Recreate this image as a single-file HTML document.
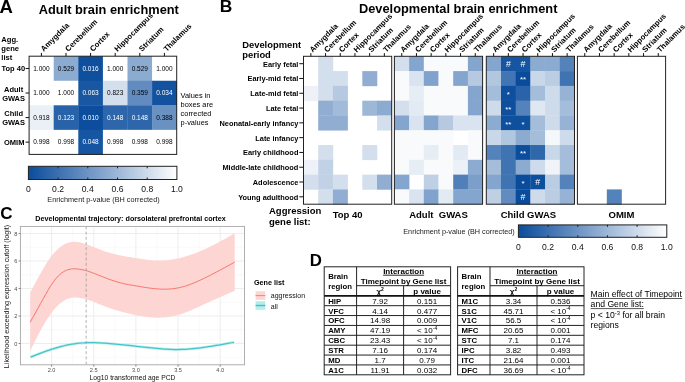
<!DOCTYPE html>
<html><head><meta charset="utf-8"><style>
html,body{margin:0;padding:0;background:#fff;width:685px;height:382px;overflow:hidden}
svg{display:block;font-family:"Liberation Sans", sans-serif;will-change:transform}
</style></head><body>
<svg width="685" height="382" viewBox="0 0 685 382">
<defs>
<linearGradient id="gA" x1="0" x2="1" y1="0" y2="0"><stop offset="0" stop-color="#0a4c9c"/><stop offset="1" stop-color="#ffffff"/></linearGradient>
<linearGradient id="gB" x1="0" x2="1" y1="0" y2="0"><stop offset="0" stop-color="#0a4c9c"/><stop offset="1" stop-color="#ffffff"/></linearGradient>
</defs>
<text x="-0.50" y="12.60" font-size="18.5" font-weight="bold" text-anchor="start" fill="#000" >A</text>
<text x="38.80" y="13.80" font-size="12.8" font-weight="bold" text-anchor="start" fill="#000" >Adult brain enrichment</text>
<rect x="29.10" y="56.20" width="24.90" height="24.85" fill="#ffffff" />
<text x="41.40" y="70.78" font-size="6.5" text-anchor="middle" fill="#000" >1.000</text>
<rect x="53.70" y="56.20" width="24.90" height="24.85" fill="#8cabd0" />
<text x="66.00" y="70.78" font-size="6.5" text-anchor="middle" fill="#000" >0.529</text>
<rect x="78.30" y="56.20" width="24.90" height="24.85" fill="#0e4f9e" />
<text x="90.60" y="70.78" font-size="6.5" text-anchor="middle" fill="#fff" >0.016</text>
<rect x="102.90" y="56.20" width="24.90" height="24.85" fill="#ffffff" />
<text x="115.20" y="70.78" font-size="6.5" text-anchor="middle" fill="#000" >1.000</text>
<rect x="127.50" y="56.20" width="24.90" height="24.85" fill="#8cabd0" />
<text x="139.80" y="70.78" font-size="6.5" text-anchor="middle" fill="#000" >0.529</text>
<rect x="152.10" y="56.20" width="24.90" height="24.85" fill="#ffffff" />
<text x="164.40" y="70.78" font-size="6.5" text-anchor="middle" fill="#000" >1.000</text>
<rect x="29.10" y="80.75" width="24.90" height="24.85" fill="#ffffff" />
<text x="41.40" y="95.33" font-size="6.5" text-anchor="middle" fill="#000" >1.000</text>
<rect x="53.70" y="80.75" width="24.90" height="24.85" fill="#ffffff" />
<text x="66.00" y="95.33" font-size="6.5" text-anchor="middle" fill="#000" >1.000</text>
<rect x="78.30" y="80.75" width="24.90" height="24.85" fill="#1957a2" />
<text x="90.60" y="95.33" font-size="6.5" text-anchor="middle" fill="#fff" >0.063</text>
<rect x="102.90" y="80.75" width="24.90" height="24.85" fill="#d4dfed" />
<text x="115.20" y="95.33" font-size="6.5" text-anchor="middle" fill="#000" >0.823</text>
<rect x="127.50" y="80.75" width="24.90" height="24.85" fill="#628cc0" />
<text x="139.80" y="95.33" font-size="6.5" text-anchor="middle" fill="#000" >0.359</text>
<rect x="152.10" y="80.75" width="24.90" height="24.85" fill="#12529f" />
<text x="164.40" y="95.33" font-size="6.5" text-anchor="middle" fill="#fff" >0.034</text>
<rect x="29.10" y="105.30" width="24.90" height="24.85" fill="#ebf0f7" />
<text x="41.40" y="119.88" font-size="6.5" text-anchor="middle" fill="#000" >0.918</text>
<rect x="53.70" y="105.30" width="24.90" height="24.85" fill="#2862a8" />
<text x="66.00" y="119.88" font-size="6.5" text-anchor="middle" fill="#fff" >0.123</text>
<rect x="78.30" y="105.30" width="24.90" height="24.85" fill="#0c4e9d" />
<text x="90.60" y="119.88" font-size="6.5" text-anchor="middle" fill="#fff" >0.010</text>
<rect x="102.90" y="105.30" width="24.90" height="24.85" fill="#2e66ab" />
<text x="115.20" y="119.88" font-size="6.5" text-anchor="middle" fill="#fff" >0.148</text>
<rect x="127.50" y="105.30" width="24.90" height="24.85" fill="#2e66ab" />
<text x="139.80" y="119.88" font-size="6.5" text-anchor="middle" fill="#fff" >0.148</text>
<rect x="152.10" y="105.30" width="24.90" height="24.85" fill="#6991c2" />
<text x="164.40" y="119.88" font-size="6.5" text-anchor="middle" fill="#000" >0.388</text>
<rect x="29.10" y="129.85" width="24.90" height="24.85" fill="#ffffff" />
<text x="41.40" y="144.43" font-size="6.5" text-anchor="middle" fill="#000" >0.998</text>
<rect x="53.70" y="129.85" width="24.90" height="24.85" fill="#ffffff" />
<text x="66.00" y="144.43" font-size="6.5" text-anchor="middle" fill="#000" >0.998</text>
<rect x="78.30" y="129.85" width="24.90" height="24.85" fill="#1655a1" />
<text x="90.60" y="144.43" font-size="6.5" text-anchor="middle" fill="#fff" >0.048</text>
<rect x="102.90" y="129.85" width="24.90" height="24.85" fill="#ffffff" />
<text x="115.20" y="144.43" font-size="6.5" text-anchor="middle" fill="#000" >0.998</text>
<rect x="127.50" y="129.85" width="24.90" height="24.85" fill="#ffffff" />
<text x="139.80" y="144.43" font-size="6.5" text-anchor="middle" fill="#000" >0.998</text>
<rect x="152.10" y="129.85" width="24.90" height="24.85" fill="#ffffff" />
<text x="164.40" y="144.43" font-size="6.5" text-anchor="middle" fill="#000" >0.998</text>
<rect x="29.10" y="56.20" width="147.60" height="98.20" fill="none" stroke="#222" stroke-width="1"/>
<line x1="41.40" y1="52.90" x2="41.40" y2="56.20" stroke="#111" stroke-width="1.0" />
<text transform="translate(43.70,52.00) rotate(-45)" font-size="7.7" font-weight="bold" fill="#000">Amygdala</text>
<line x1="66.00" y1="52.90" x2="66.00" y2="56.20" stroke="#111" stroke-width="1.0" />
<text transform="translate(68.30,52.00) rotate(-45)" font-size="7.7" font-weight="bold" fill="#000">Cerebellum</text>
<line x1="90.60" y1="52.90" x2="90.60" y2="56.20" stroke="#111" stroke-width="1.0" />
<text transform="translate(92.90,52.00) rotate(-45)" font-size="7.7" font-weight="bold" fill="#000">Cortex</text>
<line x1="115.20" y1="52.90" x2="115.20" y2="56.20" stroke="#111" stroke-width="1.0" />
<text transform="translate(117.50,52.00) rotate(-45)" font-size="7.7" font-weight="bold" fill="#000">Hippocampus</text>
<line x1="139.80" y1="52.90" x2="139.80" y2="56.20" stroke="#111" stroke-width="1.0" />
<text transform="translate(142.10,52.00) rotate(-45)" font-size="7.7" font-weight="bold" fill="#000">Striatum</text>
<line x1="164.40" y1="52.90" x2="164.40" y2="56.20" stroke="#111" stroke-width="1.0" />
<text transform="translate(166.70,52.00) rotate(-45)" font-size="7.7" font-weight="bold" fill="#000">Thalamus</text>
<line x1="25.60" y1="68.48" x2="29.10" y2="68.48" stroke="#111" stroke-width="1.0" />
<line x1="25.60" y1="93.03" x2="29.10" y2="93.03" stroke="#111" stroke-width="1.0" />
<line x1="25.60" y1="117.58" x2="29.10" y2="117.58" stroke="#111" stroke-width="1.0" />
<line x1="25.60" y1="142.12" x2="29.10" y2="142.12" stroke="#111" stroke-width="1.0" />
<text x="1.30" y="41.90" font-size="7.6" font-weight="bold" text-anchor="start" fill="#000" >Agg.</text>
<text x="1.30" y="51.40" font-size="7.6" font-weight="bold" text-anchor="start" fill="#000" >gene</text>
<text x="1.30" y="60.20" font-size="7.6" font-weight="bold" text-anchor="start" fill="#000" >list</text>
<text x="13.30" y="71.20" font-size="7.5" font-weight="bold" text-anchor="middle" fill="#000" >Top 40</text>
<text x="13.60" y="92.20" font-size="7.5" font-weight="bold" text-anchor="middle" fill="#000" >Adult</text>
<text x="13.60" y="100.60" font-size="7.5" font-weight="bold" text-anchor="middle" fill="#000" >GWAS</text>
<text x="13.60" y="116.30" font-size="7.5" font-weight="bold" text-anchor="middle" fill="#000" >Child</text>
<text x="13.60" y="124.70" font-size="7.5" font-weight="bold" text-anchor="middle" fill="#000" >GWAS</text>
<text x="14.20" y="145.00" font-size="7.5" font-weight="bold" text-anchor="middle" fill="#000" >OMIM</text>
<text x="180.60" y="98.30" font-size="7.4" text-anchor="start" fill="#000" >Values in</text>
<text x="180.60" y="107.10" font-size="7.4" text-anchor="start" fill="#000" >boxes are</text>
<text x="180.60" y="115.90" font-size="7.4" text-anchor="start" fill="#000" >corrected</text>
<text x="180.60" y="124.70" font-size="7.4" text-anchor="start" fill="#000" >p-values</text>
<rect x="28.40" y="166.30" width="148.50" height="13.20" fill="url(#gA)" stroke="#222" stroke-width="1"/>
<line x1="58.10" y1="166.30" x2="58.10" y2="168.30" stroke="#222" stroke-width="1" />
<line x1="58.10" y1="177.50" x2="58.10" y2="179.50" stroke="#222" stroke-width="1" />
<line x1="87.80" y1="166.30" x2="87.80" y2="168.30" stroke="#222" stroke-width="1" />
<line x1="87.80" y1="177.50" x2="87.80" y2="179.50" stroke="#222" stroke-width="1" />
<line x1="117.50" y1="166.30" x2="117.50" y2="168.30" stroke="#222" stroke-width="1" />
<line x1="117.50" y1="177.50" x2="117.50" y2="179.50" stroke="#222" stroke-width="1" />
<line x1="147.20" y1="166.30" x2="147.20" y2="168.30" stroke="#222" stroke-width="1" />
<line x1="147.20" y1="177.50" x2="147.20" y2="179.50" stroke="#222" stroke-width="1" />
<text x="28.40" y="191.50" font-size="8.6" text-anchor="middle" fill="#111" >0</text>
<text x="58.10" y="191.50" font-size="8.6" text-anchor="middle" fill="#111" >0.2</text>
<text x="87.80" y="191.50" font-size="8.6" text-anchor="middle" fill="#111" >0.4</text>
<text x="117.50" y="191.50" font-size="8.6" text-anchor="middle" fill="#111" >0.6</text>
<text x="147.20" y="191.50" font-size="8.6" text-anchor="middle" fill="#111" >0.8</text>
<text x="176.90" y="191.50" font-size="8.6" text-anchor="middle" fill="#111" >1.0</text>
<text x="103.50" y="201.80" font-size="7.3" text-anchor="middle" fill="#222" >Enrichment p-value (BH corrected)</text>
<text x="219.80" y="12.40" font-size="17.4" font-weight="bold" text-anchor="start" fill="#000" >B</text>
<text x="359.00" y="12.70" font-size="12.8" font-weight="bold" text-anchor="start" fill="#000" >Developmental brain enrichment</text>
<text x="242.20" y="47.70" font-size="9.4" font-weight="bold" text-anchor="start" fill="#000" >Development</text>
<text x="242.20" y="58.30" font-size="9.4" font-weight="bold" text-anchor="start" fill="#000" >period</text>
<text x="298.40" y="66.69" font-size="7.4" font-weight="bold" text-anchor="end" fill="#000" >Early fetal</text>
<line x1="299.30" y1="63.70" x2="303.50" y2="63.70" stroke="#111" stroke-width="1.0" />
<text x="298.40" y="81.48" font-size="7.4" font-weight="bold" text-anchor="end" fill="#000" >Early-mid fetal</text>
<line x1="299.30" y1="78.48" x2="303.50" y2="78.48" stroke="#111" stroke-width="1.0" />
<text x="298.40" y="96.28" font-size="7.4" font-weight="bold" text-anchor="end" fill="#000" >Late-mid fetal</text>
<line x1="299.30" y1="93.28" x2="303.50" y2="93.28" stroke="#111" stroke-width="1.0" />
<text x="298.40" y="111.06" font-size="7.4" font-weight="bold" text-anchor="end" fill="#000" >Late fetal</text>
<line x1="299.30" y1="108.06" x2="303.50" y2="108.06" stroke="#111" stroke-width="1.0" />
<text x="298.40" y="125.86" font-size="7.4" font-weight="bold" text-anchor="end" fill="#000" >Neonatal-early infancy</text>
<line x1="299.30" y1="122.86" x2="303.50" y2="122.86" stroke="#111" stroke-width="1.0" />
<text x="298.40" y="140.64" font-size="7.4" font-weight="bold" text-anchor="end" fill="#000" >Late infancy</text>
<line x1="299.30" y1="137.64" x2="303.50" y2="137.64" stroke="#111" stroke-width="1.0" />
<text x="298.40" y="155.44" font-size="7.4" font-weight="bold" text-anchor="end" fill="#000" >Early childhood</text>
<line x1="299.30" y1="152.44" x2="303.50" y2="152.44" stroke="#111" stroke-width="1.0" />
<text x="298.40" y="170.23" font-size="7.4" font-weight="bold" text-anchor="end" fill="#000" >Middle-late childhood</text>
<line x1="299.30" y1="167.23" x2="303.50" y2="167.23" stroke="#111" stroke-width="1.0" />
<text x="298.40" y="185.01" font-size="7.4" font-weight="bold" text-anchor="end" fill="#000" >Adolescence</text>
<line x1="299.30" y1="182.01" x2="303.50" y2="182.01" stroke="#111" stroke-width="1.0" />
<text x="298.40" y="199.81" font-size="7.4" font-weight="bold" text-anchor="end" fill="#000" >Young adulthood</text>
<line x1="299.30" y1="196.81" x2="303.50" y2="196.81" stroke="#111" stroke-width="1.0" />
<rect x="318.20" y="56.30" width="15.00" height="15.09" fill="#d3dfed" />
<rect x="318.20" y="71.09" width="15.00" height="15.09" fill="#d3dfed" />
<rect x="332.90" y="71.09" width="15.00" height="15.09" fill="#d3dfed" />
<rect x="362.30" y="71.09" width="15.00" height="15.09" fill="#91aed2" />
<rect x="303.50" y="85.88" width="15.00" height="15.09" fill="#eef2f8" />
<rect x="318.20" y="85.88" width="15.00" height="15.09" fill="#d3dfed" />
<rect x="332.90" y="85.88" width="15.00" height="15.09" fill="#b6c9e1" />
<rect x="318.20" y="100.67" width="15.00" height="15.09" fill="#91aed2" />
<rect x="332.90" y="100.67" width="15.00" height="15.09" fill="#a2bbd9" />
<rect x="362.30" y="100.67" width="15.00" height="15.09" fill="#9db7d7" />
<rect x="377.00" y="100.67" width="15.00" height="15.09" fill="#8cabd0" />
<rect x="318.20" y="115.46" width="15.00" height="15.09" fill="#91aed2" />
<rect x="332.90" y="115.46" width="15.00" height="15.09" fill="#91aed2" />
<rect x="377.00" y="115.46" width="15.00" height="15.09" fill="#d3dfed" />
<rect x="318.20" y="145.04" width="15.00" height="15.09" fill="#d3dfed" />
<rect x="362.30" y="145.04" width="15.00" height="15.09" fill="#d3dfed" />
<rect x="303.50" y="159.83" width="15.00" height="15.09" fill="#eef2f8" />
<rect x="318.20" y="159.83" width="15.00" height="15.09" fill="#c2d2e6" />
<rect x="303.50" y="174.62" width="15.00" height="15.09" fill="#d3dfed" />
<rect x="318.20" y="174.62" width="15.00" height="15.09" fill="#c2d2e6" />
<rect x="332.90" y="174.62" width="15.00" height="15.09" fill="#d3dfed" />
<rect x="362.30" y="174.62" width="15.00" height="15.09" fill="#d3dfed" />
<rect x="377.00" y="174.62" width="15.00" height="15.09" fill="#91aed2" />
<rect x="318.20" y="189.41" width="15.00" height="15.09" fill="#d3dfed" />
<rect x="332.90" y="189.41" width="15.00" height="15.09" fill="#91aed2" />
<rect x="303.50" y="56.30" width="88.20" height="147.90" fill="none" stroke="#222" stroke-width="1"/>
<line x1="310.85" y1="53.10" x2="310.85" y2="56.30" stroke="#111" stroke-width="1.0" />
<text transform="translate(312.65,52.70) rotate(-45)" font-size="7.7" font-weight="bold" fill="#000">Amygdala</text>
<line x1="325.55" y1="53.10" x2="325.55" y2="56.30" stroke="#111" stroke-width="1.0" />
<text transform="translate(327.35,52.70) rotate(-45)" font-size="7.7" font-weight="bold" fill="#000">Cerebellum</text>
<line x1="340.25" y1="53.10" x2="340.25" y2="56.30" stroke="#111" stroke-width="1.0" />
<text transform="translate(342.05,52.70) rotate(-45)" font-size="7.7" font-weight="bold" fill="#000">Cortex</text>
<line x1="354.95" y1="53.10" x2="354.95" y2="56.30" stroke="#111" stroke-width="1.0" />
<text transform="translate(356.75,52.70) rotate(-45)" font-size="7.7" font-weight="bold" fill="#000">Hippocampus</text>
<line x1="369.65" y1="53.10" x2="369.65" y2="56.30" stroke="#111" stroke-width="1.0" />
<text transform="translate(371.45,52.70) rotate(-45)" font-size="7.7" font-weight="bold" fill="#000">Striatum</text>
<line x1="384.35" y1="53.10" x2="384.35" y2="56.30" stroke="#111" stroke-width="1.0" />
<text transform="translate(386.15,52.70) rotate(-45)" font-size="7.7" font-weight="bold" fill="#000">Thalamus</text>
<text x="347.60" y="218.40" font-size="9.5" font-weight="bold" text-anchor="middle" fill="#000" >Top 40</text>
<rect x="394.40" y="56.30" width="15.00" height="15.09" fill="#d3dfed" />
<rect x="409.10" y="56.30" width="15.00" height="15.09" fill="#84a6ce" />
<rect x="423.80" y="56.30" width="15.00" height="15.09" fill="#f8fafc" />
<rect x="438.50" y="56.30" width="15.00" height="15.09" fill="#f8fafc" />
<rect x="453.20" y="56.30" width="15.00" height="15.09" fill="#f8fafc" />
<rect x="467.90" y="56.30" width="15.00" height="15.09" fill="#84a6ce" />
<rect x="394.40" y="71.09" width="15.00" height="15.09" fill="#f8fafc" />
<rect x="409.10" y="71.09" width="15.00" height="15.09" fill="#dae4f0" />
<rect x="423.80" y="71.09" width="15.00" height="15.09" fill="#80a2cc" />
<rect x="438.50" y="71.09" width="15.00" height="15.09" fill="#f8fafc" />
<rect x="453.20" y="71.09" width="15.00" height="15.09" fill="#84a6ce" />
<rect x="467.90" y="71.09" width="15.00" height="15.09" fill="#b6c9e1" />
<rect x="394.40" y="85.88" width="15.00" height="15.09" fill="#f8fafc" />
<rect x="409.10" y="85.88" width="15.00" height="15.09" fill="#e6edf5" />
<rect x="423.80" y="85.88" width="15.00" height="15.09" fill="#f8fafc" />
<rect x="438.50" y="85.88" width="15.00" height="15.09" fill="#f8fafc" />
<rect x="453.20" y="85.88" width="15.00" height="15.09" fill="#f8fafc" />
<rect x="467.90" y="85.88" width="15.00" height="15.09" fill="#84a6ce" />
<rect x="394.40" y="100.67" width="15.00" height="15.09" fill="#d3dfed" />
<rect x="409.10" y="100.67" width="15.00" height="15.09" fill="#e2eaf3" />
<rect x="423.80" y="100.67" width="15.00" height="15.09" fill="#f8fafc" />
<rect x="438.50" y="100.67" width="15.00" height="15.09" fill="#f8fafc" />
<rect x="453.20" y="100.67" width="15.00" height="15.09" fill="#f8fafc" />
<rect x="467.90" y="100.67" width="15.00" height="15.09" fill="#84a6ce" />
<rect x="394.40" y="115.46" width="15.00" height="15.09" fill="#84a6ce" />
<rect x="409.10" y="115.46" width="15.00" height="15.09" fill="#dae4f0" />
<rect x="423.80" y="115.46" width="15.00" height="15.09" fill="#84a6ce" />
<rect x="438.50" y="115.46" width="15.00" height="15.09" fill="#b6c9e1" />
<rect x="453.20" y="115.46" width="15.00" height="15.09" fill="#dae4f0" />
<rect x="467.90" y="115.46" width="15.00" height="15.09" fill="#dae4f0" />
<rect x="394.40" y="130.25" width="15.00" height="15.09" fill="#f8fafc" />
<rect x="409.10" y="130.25" width="15.00" height="15.09" fill="#f8fafc" />
<rect x="423.80" y="130.25" width="15.00" height="15.09" fill="#f8fafc" />
<rect x="438.50" y="130.25" width="15.00" height="15.09" fill="#f8fafc" />
<rect x="467.90" y="130.25" width="15.00" height="15.09" fill="#f8fafc" />
<rect x="394.40" y="145.04" width="15.00" height="15.09" fill="#f8fafc" />
<rect x="409.10" y="145.04" width="15.00" height="15.09" fill="#f8fafc" />
<rect x="423.80" y="145.04" width="15.00" height="15.09" fill="#e6edf5" />
<rect x="438.50" y="145.04" width="15.00" height="15.09" fill="#f8fafc" />
<rect x="453.20" y="145.04" width="15.00" height="15.09" fill="#e2eaf3" />
<rect x="467.90" y="145.04" width="15.00" height="15.09" fill="#f8fafc" />
<rect x="394.40" y="159.83" width="15.00" height="15.09" fill="#f8fafc" />
<rect x="409.10" y="159.83" width="15.00" height="15.09" fill="#e6edf5" />
<rect x="423.80" y="159.83" width="15.00" height="15.09" fill="#f8fafc" />
<rect x="438.50" y="159.83" width="15.00" height="15.09" fill="#f8fafc" />
<rect x="453.20" y="159.83" width="15.00" height="15.09" fill="#ebf1f7" />
<rect x="467.90" y="159.83" width="15.00" height="15.09" fill="#8cabd0" />
<rect x="394.40" y="174.62" width="15.00" height="15.09" fill="#84a6ce" />
<rect x="423.80" y="174.62" width="15.00" height="15.09" fill="#bfd0e5" />
<rect x="438.50" y="174.62" width="15.00" height="15.09" fill="#f8fafc" />
<rect x="453.20" y="174.62" width="15.00" height="15.09" fill="#5180b9" />
<rect x="467.90" y="174.62" width="15.00" height="15.09" fill="#7b9eca" />
<rect x="394.40" y="189.41" width="15.00" height="15.09" fill="#f8fafc" />
<rect x="409.10" y="189.41" width="15.00" height="15.09" fill="#dae4f0" />
<rect x="423.80" y="189.41" width="15.00" height="15.09" fill="#80a2cc" />
<rect x="438.50" y="189.41" width="15.00" height="15.09" fill="#e2eaf3" />
<rect x="453.20" y="189.41" width="15.00" height="15.09" fill="#84a6ce" />
<rect x="467.90" y="189.41" width="15.00" height="15.09" fill="#84a6ce" />
<rect x="394.40" y="56.30" width="88.20" height="147.90" fill="none" stroke="#222" stroke-width="1"/>
<line x1="401.75" y1="53.10" x2="401.75" y2="56.30" stroke="#111" stroke-width="1.0" />
<text transform="translate(403.55,52.70) rotate(-45)" font-size="7.7" font-weight="bold" fill="#000">Amygdala</text>
<line x1="416.45" y1="53.10" x2="416.45" y2="56.30" stroke="#111" stroke-width="1.0" />
<text transform="translate(418.25,52.70) rotate(-45)" font-size="7.7" font-weight="bold" fill="#000">Cerebellum</text>
<line x1="431.15" y1="53.10" x2="431.15" y2="56.30" stroke="#111" stroke-width="1.0" />
<text transform="translate(432.95,52.70) rotate(-45)" font-size="7.7" font-weight="bold" fill="#000">Cortex</text>
<line x1="445.85" y1="53.10" x2="445.85" y2="56.30" stroke="#111" stroke-width="1.0" />
<text transform="translate(447.65,52.70) rotate(-45)" font-size="7.7" font-weight="bold" fill="#000">Hippocampus</text>
<line x1="460.55" y1="53.10" x2="460.55" y2="56.30" stroke="#111" stroke-width="1.0" />
<text transform="translate(462.35,52.70) rotate(-45)" font-size="7.7" font-weight="bold" fill="#000">Striatum</text>
<line x1="475.25" y1="53.10" x2="475.25" y2="56.30" stroke="#111" stroke-width="1.0" />
<text transform="translate(477.05,52.70) rotate(-45)" font-size="7.7" font-weight="bold" fill="#000">Thalamus</text>
<text x="438.50" y="218.40" font-size="9.5" font-weight="bold" text-anchor="middle" fill="#000" >Adult&#160; GWAS</text>
<rect x="486.30" y="56.30" width="15.00" height="15.09" fill="#84a6ce" />
<rect x="501.00" y="56.30" width="15.00" height="15.09" fill="#1655a1" />
<rect x="515.70" y="56.30" width="15.00" height="15.09" fill="#1655a1" />
<rect x="530.40" y="56.30" width="15.00" height="15.09" fill="#8cabd0" />
<rect x="545.10" y="56.30" width="15.00" height="15.09" fill="#8cabd0" />
<rect x="559.80" y="56.30" width="15.00" height="15.09" fill="#5482ba" />
<rect x="486.30" y="71.09" width="15.00" height="15.09" fill="#b1c6df" />
<rect x="501.00" y="71.09" width="15.00" height="15.09" fill="#4275b3" />
<rect x="515.70" y="71.09" width="15.00" height="15.09" fill="#0a4c9c" />
<rect x="530.40" y="71.09" width="15.00" height="15.09" fill="#c9d8e9" />
<rect x="545.10" y="71.09" width="15.00" height="15.09" fill="#bacde3" />
<rect x="559.80" y="71.09" width="15.00" height="15.09" fill="#4073b2" />
<rect x="486.30" y="85.88" width="15.00" height="15.09" fill="#a4bdda" />
<rect x="501.00" y="85.88" width="15.00" height="15.09" fill="#0f509e" />
<rect x="515.70" y="85.88" width="15.00" height="15.09" fill="#2a63a9" />
<rect x="530.40" y="85.88" width="15.00" height="15.09" fill="#a4bdda" />
<rect x="545.10" y="85.88" width="15.00" height="15.09" fill="#cedbeb" />
<rect x="559.80" y="85.88" width="15.00" height="15.09" fill="#96b2d4" />
<rect x="486.30" y="100.67" width="15.00" height="15.09" fill="#cedbeb" />
<rect x="501.00" y="100.67" width="15.00" height="15.09" fill="#0f509e" />
<rect x="515.70" y="100.67" width="15.00" height="15.09" fill="#5482ba" />
<rect x="530.40" y="100.67" width="15.00" height="15.09" fill="#dfe8f2" />
<rect x="545.10" y="100.67" width="15.00" height="15.09" fill="#cedbeb" />
<rect x="559.80" y="100.67" width="15.00" height="15.09" fill="#a4bdda" />
<rect x="486.30" y="115.46" width="15.00" height="15.09" fill="#8cabd0" />
<rect x="501.00" y="115.46" width="15.00" height="15.09" fill="#0f509e" />
<rect x="515.70" y="115.46" width="15.00" height="15.09" fill="#0f509e" />
<rect x="530.40" y="115.46" width="15.00" height="15.09" fill="#a4bdda" />
<rect x="545.10" y="115.46" width="15.00" height="15.09" fill="#cedbeb" />
<rect x="559.80" y="115.46" width="15.00" height="15.09" fill="#96b2d4" />
<rect x="486.30" y="130.25" width="15.00" height="15.09" fill="#c9d8e9" />
<rect x="501.00" y="130.25" width="15.00" height="15.09" fill="#b1c6df" />
<rect x="515.70" y="130.25" width="15.00" height="15.09" fill="#8cabd0" />
<rect x="530.40" y="130.25" width="15.00" height="15.09" fill="#a4bdda" />
<rect x="545.10" y="130.25" width="15.00" height="15.09" fill="#f5f8fb" />
<rect x="559.80" y="130.25" width="15.00" height="15.09" fill="#cedbeb" />
<rect x="486.30" y="145.04" width="15.00" height="15.09" fill="#5482ba" />
<rect x="501.00" y="145.04" width="15.00" height="15.09" fill="#4073b2" />
<rect x="515.70" y="145.04" width="15.00" height="15.09" fill="#0c4e9d" />
<rect x="530.40" y="145.04" width="15.00" height="15.09" fill="#2f67ab" />
<rect x="545.10" y="145.04" width="15.00" height="15.09" fill="#c9d8e9" />
<rect x="559.80" y="145.04" width="15.00" height="15.09" fill="#a4bdda" />
<rect x="486.30" y="159.83" width="15.00" height="15.09" fill="#a4bdda" />
<rect x="501.00" y="159.83" width="15.00" height="15.09" fill="#4073b2" />
<rect x="515.70" y="159.83" width="15.00" height="15.09" fill="#8cabd0" />
<rect x="530.40" y="159.83" width="15.00" height="15.09" fill="#cedbeb" />
<rect x="545.10" y="159.83" width="15.00" height="15.09" fill="#f0f4f9" />
<rect x="559.80" y="159.83" width="15.00" height="15.09" fill="#a4bdda" />
<rect x="486.30" y="174.62" width="15.00" height="15.09" fill="#84a6ce" />
<rect x="501.00" y="174.62" width="15.00" height="15.09" fill="#4073b2" />
<rect x="515.70" y="174.62" width="15.00" height="15.09" fill="#0a4c9c" />
<rect x="530.40" y="174.62" width="15.00" height="15.09" fill="#0f509e" />
<rect x="545.10" y="174.62" width="15.00" height="15.09" fill="#bacde3" />
<rect x="559.80" y="174.62" width="15.00" height="15.09" fill="#5482ba" />
<rect x="486.30" y="189.41" width="15.00" height="15.09" fill="#bfd0e5" />
<rect x="501.00" y="189.41" width="15.00" height="15.09" fill="#628cc0" />
<rect x="515.70" y="189.41" width="15.00" height="15.09" fill="#0a4c9c" />
<rect x="530.40" y="189.41" width="15.00" height="15.09" fill="#cedbeb" />
<rect x="545.10" y="189.41" width="15.00" height="15.09" fill="#bacde3" />
<rect x="559.80" y="189.41" width="15.00" height="15.09" fill="#96b2d4" />
<text x="508.35" y="66.80" font-size="8.8" text-anchor="middle" fill="#fff" >#</text>
<text x="523.05" y="66.80" font-size="8.8" text-anchor="middle" fill="#fff" >#</text>
<text x="523.05" y="82.48" font-size="8" text-anchor="middle" fill="#fff" >**</text>
<text x="508.35" y="97.28" font-size="8" text-anchor="middle" fill="#fff" >*</text>
<text x="508.35" y="112.06" font-size="8" text-anchor="middle" fill="#fff" >**</text>
<text x="508.35" y="126.86" font-size="8" text-anchor="middle" fill="#fff" >**</text>
<text x="523.05" y="126.86" font-size="8" text-anchor="middle" fill="#fff" >*</text>
<text x="523.05" y="156.44" font-size="8" text-anchor="middle" fill="#fff" >**</text>
<text x="523.05" y="186.01" font-size="8" text-anchor="middle" fill="#fff" >*</text>
<text x="537.75" y="185.11" font-size="8.8" text-anchor="middle" fill="#fff" >#</text>
<text x="523.05" y="199.91" font-size="8.8" text-anchor="middle" fill="#fff" >#</text>
<rect x="486.30" y="56.30" width="88.20" height="147.90" fill="none" stroke="#222" stroke-width="1"/>
<line x1="493.65" y1="53.10" x2="493.65" y2="56.30" stroke="#111" stroke-width="1.0" />
<text transform="translate(495.45,52.70) rotate(-45)" font-size="7.7" font-weight="bold" fill="#000">Amygdala</text>
<line x1="508.35" y1="53.10" x2="508.35" y2="56.30" stroke="#111" stroke-width="1.0" />
<text transform="translate(510.15,52.70) rotate(-45)" font-size="7.7" font-weight="bold" fill="#000">Cerebellum</text>
<line x1="523.05" y1="53.10" x2="523.05" y2="56.30" stroke="#111" stroke-width="1.0" />
<text transform="translate(524.85,52.70) rotate(-45)" font-size="7.7" font-weight="bold" fill="#000">Cortex</text>
<line x1="537.75" y1="53.10" x2="537.75" y2="56.30" stroke="#111" stroke-width="1.0" />
<text transform="translate(539.55,52.70) rotate(-45)" font-size="7.7" font-weight="bold" fill="#000">Hippocampus</text>
<line x1="552.45" y1="53.10" x2="552.45" y2="56.30" stroke="#111" stroke-width="1.0" />
<text transform="translate(554.25,52.70) rotate(-45)" font-size="7.7" font-weight="bold" fill="#000">Striatum</text>
<line x1="567.15" y1="53.10" x2="567.15" y2="56.30" stroke="#111" stroke-width="1.0" />
<text transform="translate(568.95,52.70) rotate(-45)" font-size="7.7" font-weight="bold" fill="#000">Thalamus</text>
<text x="528.40" y="218.40" font-size="9.5" font-weight="bold" text-anchor="middle" fill="#000" >Child GWAS</text>
<rect x="606.80" y="189.41" width="15.00" height="15.09" fill="#5482ba" />
<rect x="577.40" y="56.30" width="88.20" height="147.90" fill="none" stroke="#222" stroke-width="1"/>
<line x1="584.75" y1="53.10" x2="584.75" y2="56.30" stroke="#111" stroke-width="1.0" />
<text transform="translate(586.55,52.70) rotate(-45)" font-size="7.7" font-weight="bold" fill="#000">Amygdala</text>
<line x1="599.45" y1="53.10" x2="599.45" y2="56.30" stroke="#111" stroke-width="1.0" />
<text transform="translate(601.25,52.70) rotate(-45)" font-size="7.7" font-weight="bold" fill="#000">Cerebellum</text>
<line x1="614.15" y1="53.10" x2="614.15" y2="56.30" stroke="#111" stroke-width="1.0" />
<text transform="translate(615.95,52.70) rotate(-45)" font-size="7.7" font-weight="bold" fill="#000">Cortex</text>
<line x1="628.85" y1="53.10" x2="628.85" y2="56.30" stroke="#111" stroke-width="1.0" />
<text transform="translate(630.65,52.70) rotate(-45)" font-size="7.7" font-weight="bold" fill="#000">Hippocampus</text>
<line x1="643.55" y1="53.10" x2="643.55" y2="56.30" stroke="#111" stroke-width="1.0" />
<text transform="translate(645.35,52.70) rotate(-45)" font-size="7.7" font-weight="bold" fill="#000">Striatum</text>
<line x1="658.25" y1="53.10" x2="658.25" y2="56.30" stroke="#111" stroke-width="1.0" />
<text transform="translate(660.05,52.70) rotate(-45)" font-size="7.7" font-weight="bold" fill="#000">Thalamus</text>
<text x="621.50" y="218.40" font-size="9.5" font-weight="bold" text-anchor="middle" fill="#000" >OMIM</text>
<text x="269.00" y="214.20" font-size="9.5" font-weight="bold" text-anchor="start" fill="#000" >Aggression</text>
<text x="269.00" y="224.60" font-size="9.5" font-weight="bold" text-anchor="start" fill="#000" >gene list:</text>
<text x="403.30" y="234.30" font-size="7.24" text-anchor="start" fill="#222" >Enrichment p-value (BH corrected)</text>
<rect x="518.40" y="224.90" width="148.40" height="12.40" fill="url(#gB)" stroke="#222" stroke-width="1"/>
<line x1="548.08" y1="224.90" x2="548.08" y2="226.90" stroke="#222" stroke-width="1" />
<line x1="548.08" y1="235.30" x2="548.08" y2="237.30" stroke="#222" stroke-width="1" />
<line x1="577.76" y1="224.90" x2="577.76" y2="226.90" stroke="#222" stroke-width="1" />
<line x1="577.76" y1="235.30" x2="577.76" y2="237.30" stroke="#222" stroke-width="1" />
<line x1="607.44" y1="224.90" x2="607.44" y2="226.90" stroke="#222" stroke-width="1" />
<line x1="607.44" y1="235.30" x2="607.44" y2="237.30" stroke="#222" stroke-width="1" />
<line x1="637.12" y1="224.90" x2="637.12" y2="226.90" stroke="#222" stroke-width="1" />
<line x1="637.12" y1="235.30" x2="637.12" y2="237.30" stroke="#222" stroke-width="1" />
<text x="518.40" y="250.20" font-size="8.6" text-anchor="middle" fill="#111" >0</text>
<text x="548.08" y="250.20" font-size="8.6" text-anchor="middle" fill="#111" >0.2</text>
<text x="577.76" y="250.20" font-size="8.6" text-anchor="middle" fill="#111" >0.4</text>
<text x="607.44" y="250.20" font-size="8.6" text-anchor="middle" fill="#111" >0.6</text>
<text x="637.12" y="250.20" font-size="8.6" text-anchor="middle" fill="#111" >0.8</text>
<text x="666.80" y="250.20" font-size="8.6" text-anchor="middle" fill="#111" >1.0</text>
<text x="0.30" y="218.90" font-size="17.0" font-weight="bold" text-anchor="start" fill="#000" >C</text>
<text x="130.50" y="221.20" font-size="7.2" font-weight="bold" text-anchor="middle" fill="#000" >Developmental trajectory: dorsolateral prefrontal cortex</text>
<rect x="20.40" y="226.40" width="224.10" height="138.40" fill="#fff" />
<line x1="20.40" y1="357.25" x2="244.50" y2="357.25" stroke="#f2f2f2" stroke-width="0.5" />
<line x1="20.40" y1="329.75" x2="244.50" y2="329.75" stroke="#f2f2f2" stroke-width="0.5" />
<line x1="20.40" y1="302.25" x2="244.50" y2="302.25" stroke="#f2f2f2" stroke-width="0.5" />
<line x1="20.40" y1="274.75" x2="244.50" y2="274.75" stroke="#f2f2f2" stroke-width="0.5" />
<line x1="20.40" y1="247.25" x2="244.50" y2="247.25" stroke="#f2f2f2" stroke-width="0.5" />
<line x1="30.53" y1="226.40" x2="30.53" y2="364.80" stroke="#f2f2f2" stroke-width="0.5" />
<line x1="72.67" y1="226.40" x2="72.67" y2="364.80" stroke="#f2f2f2" stroke-width="0.5" />
<line x1="114.82" y1="226.40" x2="114.82" y2="364.80" stroke="#f2f2f2" stroke-width="0.5" />
<line x1="156.97" y1="226.40" x2="156.97" y2="364.80" stroke="#f2f2f2" stroke-width="0.5" />
<line x1="199.12" y1="226.40" x2="199.12" y2="364.80" stroke="#f2f2f2" stroke-width="0.5" />
<line x1="241.27" y1="226.40" x2="241.27" y2="364.80" stroke="#f2f2f2" stroke-width="0.5" />
<line x1="20.40" y1="343.50" x2="244.50" y2="343.50" stroke="#ebebeb" stroke-width="0.9" />
<line x1="20.40" y1="316.00" x2="244.50" y2="316.00" stroke="#ebebeb" stroke-width="0.9" />
<line x1="20.40" y1="288.50" x2="244.50" y2="288.50" stroke="#ebebeb" stroke-width="0.9" />
<line x1="20.40" y1="261.00" x2="244.50" y2="261.00" stroke="#ebebeb" stroke-width="0.9" />
<line x1="20.40" y1="233.50" x2="244.50" y2="233.50" stroke="#ebebeb" stroke-width="0.9" />
<line x1="51.60" y1="226.40" x2="51.60" y2="364.80" stroke="#ebebeb" stroke-width="0.9" />
<line x1="93.75" y1="226.40" x2="93.75" y2="364.80" stroke="#ebebeb" stroke-width="0.9" />
<line x1="135.90" y1="226.40" x2="135.90" y2="364.80" stroke="#ebebeb" stroke-width="0.9" />
<line x1="178.05" y1="226.40" x2="178.05" y2="364.80" stroke="#ebebeb" stroke-width="0.9" />
<line x1="220.20" y1="226.40" x2="220.20" y2="364.80" stroke="#ebebeb" stroke-width="0.9" />
<path d="M30.19,292.62 L32.78,287.73 L35.37,282.88 L37.95,278.10 L40.54,273.43 L43.13,268.90 L45.72,264.58 L48.31,260.54 L50.90,256.83 L53.49,253.53 L56.08,250.64 L58.66,248.17 L61.25,246.13 L63.84,244.51 L66.43,243.30 L69.02,242.47 L71.61,241.98 L74.20,241.81 L76.79,241.94 L79.37,242.31 L81.96,242.90 L84.55,243.64 L87.14,244.51 L89.73,245.46 L92.32,246.46 L94.91,247.50 L97.50,248.54 L100.08,249.55 L102.67,250.52 L105.26,251.42 L107.85,252.25 L110.44,253.00 L113.03,253.70 L115.62,254.33 L118.21,254.92 L120.79,255.46 L123.38,255.96 L125.97,256.43 L128.56,256.88 L131.15,257.31 L133.74,257.72 L136.33,258.13 L138.92,258.54 L141.50,258.93 L144.09,259.30 L146.68,259.64 L149.27,259.94 L151.86,260.19 L154.45,260.38 L157.04,260.50 L159.63,260.54 L162.21,260.50 L164.80,260.37 L167.39,260.16 L169.98,259.87 L172.57,259.50 L175.16,259.05 L177.75,258.53 L180.34,257.93 L182.92,257.26 L185.51,256.52 L188.10,255.71 L190.69,254.84 L193.28,253.91 L195.87,252.92 L198.46,251.88 L201.05,250.79 L203.63,249.64 L206.22,248.45 L208.81,247.22 L211.40,245.94 L213.99,244.63 L216.58,243.30 L219.17,241.93 L221.76,240.54 L224.34,239.13 L226.93,237.71 L229.52,236.27 L232.11,234.83 L234.70,233.38 L234.70,290.83 L232.11,291.95 L229.52,293.07 L226.93,294.18 L224.34,295.31 L221.76,296.44 L219.17,297.57 L216.58,298.71 L213.99,299.86 L211.40,301.02 L208.81,302.19 L206.22,303.37 L203.63,304.57 L201.05,305.78 L198.46,306.98 L195.87,308.18 L193.28,309.35 L190.69,310.48 L188.10,311.56 L185.51,312.58 L182.92,313.52 L180.34,314.37 L177.75,315.12 L175.16,315.76 L172.57,316.31 L169.98,316.76 L167.39,317.12 L164.80,317.38 L162.21,317.55 L159.63,317.63 L157.04,317.63 L154.45,317.55 L151.86,317.40 L149.27,317.17 L146.68,316.88 L144.09,316.53 L141.50,316.12 L138.92,315.67 L136.33,315.17 L133.74,314.64 L131.15,314.07 L128.56,313.46 L125.97,312.82 L123.38,312.15 L120.79,311.46 L118.21,310.73 L115.62,309.96 L113.03,309.16 L110.44,308.32 L107.85,307.43 L105.26,306.50 L102.67,305.51 L100.08,304.47 L97.50,303.42 L94.91,302.37 L92.32,301.36 L89.73,300.40 L87.14,299.52 L84.55,298.76 L81.96,298.13 L79.37,297.69 L76.79,297.46 L74.20,297.48 L71.61,297.78 L69.02,298.40 L66.43,299.37 L63.84,300.71 L61.25,302.48 L58.66,304.67 L56.08,307.28 L53.49,310.29 L50.90,313.67 L48.31,317.41 L45.72,321.48 L43.13,325.85 L40.54,330.49 L37.95,335.36 L35.37,340.41 L32.78,345.58 L30.19,350.81 Z" fill="#fdd5d3"/>
<path d="M30.19,322.15 L32.78,317.56 L35.37,312.96 L37.95,308.30 L40.54,303.59 L43.13,298.89 L45.72,294.26 L48.31,289.79 L50.90,285.59 L53.49,281.76 L56.08,278.41 L58.66,275.58 L61.25,273.28 L63.84,271.51 L66.43,270.24 L69.02,269.41 L71.61,268.96 L74.20,268.82 L76.79,268.93 L79.37,269.21 L81.96,269.64 L84.55,270.21 L87.14,270.92 L89.73,271.76 L92.32,272.69 L94.91,273.68 L97.50,274.71 L100.08,275.74 L102.67,276.77 L105.26,277.79 L107.85,278.78 L110.44,279.72 L113.03,280.61 L115.62,281.45 L118.21,282.22 L120.79,282.92 L123.38,283.55 L125.97,284.11 L128.56,284.61 L131.15,285.07 L133.74,285.52 L136.33,285.95 L138.92,286.39 L141.50,286.83 L144.09,287.25 L146.68,287.65 L149.27,288.02 L151.86,288.36 L154.45,288.65 L157.04,288.88 L159.63,289.05 L162.21,289.16 L164.80,289.18 L167.39,289.13 L169.98,288.98 L172.57,288.75 L175.16,288.42 L177.75,287.98 L180.34,287.44 L182.92,286.78 L185.51,286.02 L188.10,285.16 L190.69,284.22 L193.28,283.20 L195.87,282.12 L198.46,280.98 L201.05,279.78 L203.63,278.55 L206.22,277.29 L208.81,276.00 L211.40,274.68 L213.99,273.34 L216.58,271.98 L219.17,270.60 L221.76,269.21 L224.34,267.81 L226.93,266.39 L229.52,264.97 L232.11,263.54 L234.70,262.11" fill="none" stroke="#f8766d" stroke-width="1"/>
<path d="M30.53,357.09 L33.10,356.08 L35.68,355.07 L38.26,354.08 L40.84,353.10 L43.42,352.14 L45.99,351.20 L48.57,350.30 L51.15,349.43 L53.73,348.60 L56.31,347.81 L58.88,347.08 L61.46,346.39 L64.04,345.76 L66.62,345.18 L69.20,344.66 L71.77,344.21 L74.35,343.81 L76.93,343.48 L79.51,343.21 L82.09,343.00 L84.66,342.85 L87.24,342.74 L89.82,342.69 L92.40,342.68 L94.98,342.71 L97.56,342.78 L100.13,342.89 L102.71,343.03 L105.29,343.19 L107.87,343.38 L110.45,343.59 L113.02,343.82 L115.60,344.07 L118.18,344.32 L120.76,344.58 L123.34,344.85 L125.91,345.12 L128.49,345.40 L131.07,345.69 L133.65,345.97 L136.23,346.26 L138.80,346.55 L141.38,346.84 L143.96,347.12 L146.54,347.40 L149.12,347.67 L151.70,347.94 L154.27,348.20 L156.85,348.45 L159.43,348.68 L162.01,348.89 L164.59,349.08 L167.16,349.24 L169.74,349.37 L172.32,349.46 L174.90,349.51 L177.48,349.52 L180.05,349.49 L182.63,349.41 L185.21,349.28 L187.79,349.12 L190.37,348.92 L192.94,348.68 L195.52,348.42 L198.10,348.12 L200.68,347.80 L203.26,347.46 L205.83,347.10 L208.41,346.72 L210.99,346.32 L213.57,345.91 L216.15,345.48 L218.73,345.04 L221.30,344.60 L223.88,344.14 L226.46,343.68 L229.04,343.21 L231.62,342.74 L234.19,342.27" fill="none" stroke="#c4eff0" stroke-width="2.8"/>
<path d="M30.53,357.09 L33.10,356.08 L35.68,355.07 L38.26,354.08 L40.84,353.10 L43.42,352.14 L45.99,351.20 L48.57,350.30 L51.15,349.43 L53.73,348.60 L56.31,347.81 L58.88,347.08 L61.46,346.39 L64.04,345.76 L66.62,345.18 L69.20,344.66 L71.77,344.21 L74.35,343.81 L76.93,343.48 L79.51,343.21 L82.09,343.00 L84.66,342.85 L87.24,342.74 L89.82,342.69 L92.40,342.68 L94.98,342.71 L97.56,342.78 L100.13,342.89 L102.71,343.03 L105.29,343.19 L107.87,343.38 L110.45,343.59 L113.02,343.82 L115.60,344.07 L118.18,344.32 L120.76,344.58 L123.34,344.85 L125.91,345.12 L128.49,345.40 L131.07,345.69 L133.65,345.97 L136.23,346.26 L138.80,346.55 L141.38,346.84 L143.96,347.12 L146.54,347.40 L149.12,347.67 L151.70,347.94 L154.27,348.20 L156.85,348.45 L159.43,348.68 L162.01,348.89 L164.59,349.08 L167.16,349.24 L169.74,349.37 L172.32,349.46 L174.90,349.51 L177.48,349.52 L180.05,349.49 L182.63,349.41 L185.21,349.28 L187.79,349.12 L190.37,348.92 L192.94,348.68 L195.52,348.42 L198.10,348.12 L200.68,347.80 L203.26,347.46 L205.83,347.10 L208.41,346.72 L210.99,346.32 L213.57,345.91 L216.15,345.48 L218.73,345.04 L221.30,344.60 L223.88,344.14 L226.46,343.68 L229.04,343.21 L231.62,342.74 L234.19,342.27" fill="none" stroke="#45c4c9" stroke-width="1.25"/>
<line x1="86.16" y1="226.40" x2="86.16" y2="364.80" stroke="#9a9a9a" stroke-width="0.75" stroke-dasharray="3,2.2"/>
<rect x="20.40" y="226.40" width="224.10" height="138.40" fill="none" stroke="#a6a6a6" stroke-width="0.9"/>
<line x1="18.60" y1="343.50" x2="20.40" y2="343.50" stroke="#555" stroke-width="0.7" />
<text x="17.40" y="345.50" font-size="5.6" text-anchor="end" fill="#4d4d4d" >0</text>
<line x1="18.60" y1="316.00" x2="20.40" y2="316.00" stroke="#555" stroke-width="0.7" />
<text x="17.40" y="318.00" font-size="5.6" text-anchor="end" fill="#4d4d4d" >2</text>
<line x1="18.60" y1="288.50" x2="20.40" y2="288.50" stroke="#555" stroke-width="0.7" />
<text x="17.40" y="290.50" font-size="5.6" text-anchor="end" fill="#4d4d4d" >4</text>
<line x1="18.60" y1="261.00" x2="20.40" y2="261.00" stroke="#555" stroke-width="0.7" />
<text x="17.40" y="263.00" font-size="5.6" text-anchor="end" fill="#4d4d4d" >6</text>
<line x1="18.60" y1="233.50" x2="20.40" y2="233.50" stroke="#555" stroke-width="0.7" />
<text x="17.40" y="235.50" font-size="5.6" text-anchor="end" fill="#4d4d4d" >8</text>
<line x1="51.60" y1="364.80" x2="51.60" y2="366.60" stroke="#555" stroke-width="0.7" />
<text x="51.60" y="372.00" font-size="5.6" text-anchor="middle" fill="#4d4d4d" >2.0</text>
<line x1="93.75" y1="364.80" x2="93.75" y2="366.60" stroke="#555" stroke-width="0.7" />
<text x="93.75" y="372.00" font-size="5.6" text-anchor="middle" fill="#4d4d4d" >2.5</text>
<line x1="135.90" y1="364.80" x2="135.90" y2="366.60" stroke="#555" stroke-width="0.7" />
<text x="135.90" y="372.00" font-size="5.6" text-anchor="middle" fill="#4d4d4d" >3.0</text>
<line x1="178.05" y1="364.80" x2="178.05" y2="366.60" stroke="#555" stroke-width="0.7" />
<text x="178.05" y="372.00" font-size="5.6" text-anchor="middle" fill="#4d4d4d" >3.5</text>
<line x1="220.20" y1="364.80" x2="220.20" y2="366.60" stroke="#555" stroke-width="0.7" />
<text x="220.20" y="372.00" font-size="5.6" text-anchor="middle" fill="#4d4d4d" >4.0</text>
<text x="132.50" y="380.20" font-size="6.75" text-anchor="middle" fill="#111" >Log10 transformed age PCD</text>
<text transform="translate(8.5,296.5) rotate(-90)" font-size="7.2" text-anchor="middle" fill="#111">Likelihood exceeding expression cutoff (logit)</text>
<text x="254.00" y="285.00" font-size="7.2" font-weight="bold" text-anchor="start" fill="#000" >Gene list</text>
<rect x="255.60" y="291.30" width="9.70" height="8.60" fill="#fdd5d3" />
<line x1="255.60" y1="295.60" x2="265.30" y2="295.60" stroke="#f8766d" stroke-width="0.9" />
<rect x="255.60" y="301.20" width="9.70" height="8.60" fill="#b7eced" />
<line x1="255.60" y1="305.50" x2="265.30" y2="305.50" stroke="#3fc3c8" stroke-width="1.4" />
<text x="270.80" y="298.30" font-size="7.0" text-anchor="start" fill="#111" >aggression</text>
<text x="270.80" y="308.90" font-size="7.0" text-anchor="start" fill="#111" >all</text>
<text x="309.80" y="265.80" font-size="16.8" font-weight="bold" text-anchor="start" fill="#000" >D</text>
<rect x="324.20" y="266.80" width="126.40" height="108.00" fill="#fff" stroke="#222" stroke-width="1"/>
<line x1="356.60" y1="266.80" x2="356.60" y2="374.80" stroke="#222" stroke-width="1" />
<line x1="403.60" y1="285.70" x2="403.60" y2="374.80" stroke="#222" stroke-width="1" />
<line x1="356.60" y1="285.70" x2="450.60" y2="285.70" stroke="#222" stroke-width="1" />
<line x1="324.20" y1="295.80" x2="450.60" y2="295.80" stroke="#111" stroke-width="1.8" />
<line x1="324.20" y1="305.68" x2="450.60" y2="305.68" stroke="#222" stroke-width="1" />
<line x1="324.20" y1="315.55" x2="450.60" y2="315.55" stroke="#222" stroke-width="1" />
<line x1="324.20" y1="325.43" x2="450.60" y2="325.43" stroke="#222" stroke-width="1" />
<line x1="324.20" y1="335.30" x2="450.60" y2="335.30" stroke="#222" stroke-width="1" />
<line x1="324.20" y1="345.18" x2="450.60" y2="345.18" stroke="#222" stroke-width="1" />
<line x1="324.20" y1="355.05" x2="450.60" y2="355.05" stroke="#222" stroke-width="1" />
<line x1="324.20" y1="364.93" x2="450.60" y2="364.93" stroke="#222" stroke-width="1" />
<text x="328.20" y="279.30" font-size="7.75" font-weight="bold" text-anchor="start" fill="#000" >Brain</text>
<text x="328.20" y="288.70" font-size="7.75" font-weight="bold" text-anchor="start" fill="#000" >region</text>
<text x="403.60" y="274.00" font-size="8" font-weight="bold" text-anchor="middle" fill="#000" >Interaction</text>
<line x1="383.10" y1="275.20" x2="424.10" y2="275.20" stroke="#111" stroke-width="0.9" />
<text x="403.60" y="283.50" font-size="8" font-weight="bold" text-anchor="middle" fill="#000" >Timepoint by Gene list</text>
<text x="380.10" y="293.90" font-size="8" font-weight="bold" text-anchor="middle" fill="#000" >χ<tspan font-size="5" dy="-3.3">2</tspan></text>
<text x="427.10" y="293.50" font-size="8" font-weight="bold" text-anchor="middle" fill="#000" >p value</text>
<text x="328.20" y="303.64" font-size="7.8" font-weight="bold" text-anchor="start" fill="#000" >HIP</text>
<text x="380.10" y="303.64" font-size="8" text-anchor="middle" fill="#000" >7.92</text>
<text x="427.10" y="303.64" font-size="8" text-anchor="middle" fill="#000" >0.151</text>
<text x="328.20" y="313.51" font-size="7.8" font-weight="bold" text-anchor="start" fill="#000" >VFC</text>
<text x="380.10" y="313.51" font-size="8" text-anchor="middle" fill="#000" >4.14</text>
<text x="427.10" y="313.51" font-size="8" text-anchor="middle" fill="#000" >0.477</text>
<text x="328.20" y="323.39" font-size="7.8" font-weight="bold" text-anchor="start" fill="#000" >OFC</text>
<text x="380.10" y="323.39" font-size="8" text-anchor="middle" fill="#000" >14.98</text>
<text x="427.10" y="323.39" font-size="8" text-anchor="middle" fill="#000" >0.009</text>
<text x="328.20" y="333.26" font-size="7.8" font-weight="bold" text-anchor="start" fill="#000" >AMY</text>
<text x="380.10" y="333.26" font-size="8" text-anchor="middle" fill="#000" >47.19</text>
<text x="427.10" y="333.26" font-size="8" text-anchor="middle" fill="#000" >&lt; 10<tspan font-size="5" dy="-3.2">-4</tspan></text>
<text x="328.20" y="343.14" font-size="7.8" font-weight="bold" text-anchor="start" fill="#000" >CBC</text>
<text x="380.10" y="343.14" font-size="8" text-anchor="middle" fill="#000" >23.43</text>
<text x="427.10" y="343.14" font-size="8" text-anchor="middle" fill="#000" >&lt; 10<tspan font-size="5" dy="-3.2">-4</tspan></text>
<text x="328.20" y="353.01" font-size="7.8" font-weight="bold" text-anchor="start" fill="#000" >STR</text>
<text x="380.10" y="353.01" font-size="8" text-anchor="middle" fill="#000" >7.16</text>
<text x="427.10" y="353.01" font-size="8" text-anchor="middle" fill="#000" >0.174</text>
<text x="328.20" y="362.89" font-size="7.8" font-weight="bold" text-anchor="start" fill="#000" >MD</text>
<text x="380.10" y="362.89" font-size="8" text-anchor="middle" fill="#000" >1.7</text>
<text x="427.10" y="362.89" font-size="8" text-anchor="middle" fill="#000" >0.79</text>
<text x="328.20" y="372.76" font-size="7.8" font-weight="bold" text-anchor="start" fill="#000" >A1C</text>
<text x="380.10" y="372.76" font-size="8" text-anchor="middle" fill="#000" >11.91</text>
<text x="427.10" y="372.76" font-size="8" text-anchor="middle" fill="#000" >0.032</text>
<rect x="457.60" y="266.80" width="126.40" height="108.00" fill="#fff" stroke="#222" stroke-width="1"/>
<line x1="490.00" y1="266.80" x2="490.00" y2="374.80" stroke="#222" stroke-width="1" />
<line x1="537.00" y1="285.70" x2="537.00" y2="374.80" stroke="#222" stroke-width="1" />
<line x1="490.00" y1="285.70" x2="584.00" y2="285.70" stroke="#222" stroke-width="1" />
<line x1="457.60" y1="295.80" x2="584.00" y2="295.80" stroke="#111" stroke-width="1.8" />
<line x1="457.60" y1="305.68" x2="584.00" y2="305.68" stroke="#222" stroke-width="1" />
<line x1="457.60" y1="315.55" x2="584.00" y2="315.55" stroke="#222" stroke-width="1" />
<line x1="457.60" y1="325.43" x2="584.00" y2="325.43" stroke="#222" stroke-width="1" />
<line x1="457.60" y1="335.30" x2="584.00" y2="335.30" stroke="#222" stroke-width="1" />
<line x1="457.60" y1="345.18" x2="584.00" y2="345.18" stroke="#222" stroke-width="1" />
<line x1="457.60" y1="355.05" x2="584.00" y2="355.05" stroke="#222" stroke-width="1" />
<line x1="457.60" y1="364.93" x2="584.00" y2="364.93" stroke="#222" stroke-width="1" />
<text x="461.60" y="279.30" font-size="7.75" font-weight="bold" text-anchor="start" fill="#000" >Brain</text>
<text x="461.60" y="288.70" font-size="7.75" font-weight="bold" text-anchor="start" fill="#000" >region</text>
<text x="537.00" y="274.00" font-size="8" font-weight="bold" text-anchor="middle" fill="#000" >Interaction</text>
<line x1="516.50" y1="275.20" x2="557.50" y2="275.20" stroke="#111" stroke-width="0.9" />
<text x="537.00" y="283.50" font-size="8" font-weight="bold" text-anchor="middle" fill="#000" >Timepoint by Gene list</text>
<text x="513.50" y="293.90" font-size="8" font-weight="bold" text-anchor="middle" fill="#000" >χ<tspan font-size="5" dy="-3.3">2</tspan></text>
<text x="560.50" y="293.50" font-size="8" font-weight="bold" text-anchor="middle" fill="#000" >p value</text>
<text x="461.60" y="303.64" font-size="7.8" font-weight="bold" text-anchor="start" fill="#000" >M1C</text>
<text x="513.50" y="303.64" font-size="8" text-anchor="middle" fill="#000" >3.34</text>
<text x="560.50" y="303.64" font-size="8" text-anchor="middle" fill="#000" >0.536</text>
<text x="461.60" y="313.51" font-size="7.8" font-weight="bold" text-anchor="start" fill="#000" >S1C</text>
<text x="513.50" y="313.51" font-size="8" text-anchor="middle" fill="#000" >45.71</text>
<text x="560.50" y="313.51" font-size="8" text-anchor="middle" fill="#000" >&lt; 10<tspan font-size="5" dy="-3.2">-4</tspan></text>
<text x="461.60" y="323.39" font-size="7.8" font-weight="bold" text-anchor="start" fill="#000" >V1C</text>
<text x="513.50" y="323.39" font-size="8" text-anchor="middle" fill="#000" >56.5</text>
<text x="560.50" y="323.39" font-size="8" text-anchor="middle" fill="#000" >&lt; 10<tspan font-size="5" dy="-3.2">-4</tspan></text>
<text x="461.60" y="333.26" font-size="7.8" font-weight="bold" text-anchor="start" fill="#000" >MFC</text>
<text x="513.50" y="333.26" font-size="8" text-anchor="middle" fill="#000" >20.65</text>
<text x="560.50" y="333.26" font-size="8" text-anchor="middle" fill="#000" >0.001</text>
<text x="461.60" y="343.14" font-size="7.8" font-weight="bold" text-anchor="start" fill="#000" >STC</text>
<text x="513.50" y="343.14" font-size="8" text-anchor="middle" fill="#000" >7.1</text>
<text x="560.50" y="343.14" font-size="8" text-anchor="middle" fill="#000" >0.174</text>
<text x="461.60" y="353.01" font-size="7.8" font-weight="bold" text-anchor="start" fill="#000" >IPC</text>
<text x="513.50" y="353.01" font-size="8" text-anchor="middle" fill="#000" >3.82</text>
<text x="560.50" y="353.01" font-size="8" text-anchor="middle" fill="#000" >0.493</text>
<text x="461.60" y="362.89" font-size="7.8" font-weight="bold" text-anchor="start" fill="#000" >ITC</text>
<text x="513.50" y="362.89" font-size="8" text-anchor="middle" fill="#000" >21.64</text>
<text x="560.50" y="362.89" font-size="8" text-anchor="middle" fill="#000" >0.001</text>
<text x="461.60" y="372.76" font-size="7.8" font-weight="bold" text-anchor="start" fill="#000" >DFC</text>
<text x="513.50" y="372.76" font-size="8" text-anchor="middle" fill="#000" >36.69</text>
<text x="560.50" y="372.76" font-size="8" text-anchor="middle" fill="#000" >&lt; 10<tspan font-size="5" dy="-3.2">-4</tspan></text>
<text x="590.60" y="296.80" font-size="8.65" text-anchor="start" fill="#000" >Main effect of Timepoint</text>
<text x="590.60" y="307.20" font-size="8.65" text-anchor="start" fill="#000" >and Gene list:</text>
<line x1="590.60" y1="298.50" x2="682.20" y2="298.50" stroke="#222" stroke-width="0.75" />
<line x1="590.60" y1="308.60" x2="643.80" y2="308.60" stroke="#222" stroke-width="0.75" />
<text x="590.60" y="317.80" font-size="8.65" text-anchor="start" fill="#000" >p &lt; 10<tspan font-size="5.8" dy="-3.2">-3</tspan><tspan dy="3.2"> for all brain</tspan></text>
<text x="590.60" y="328.30" font-size="8.65" text-anchor="start" fill="#000" >regions</text>
</svg></body></html>
